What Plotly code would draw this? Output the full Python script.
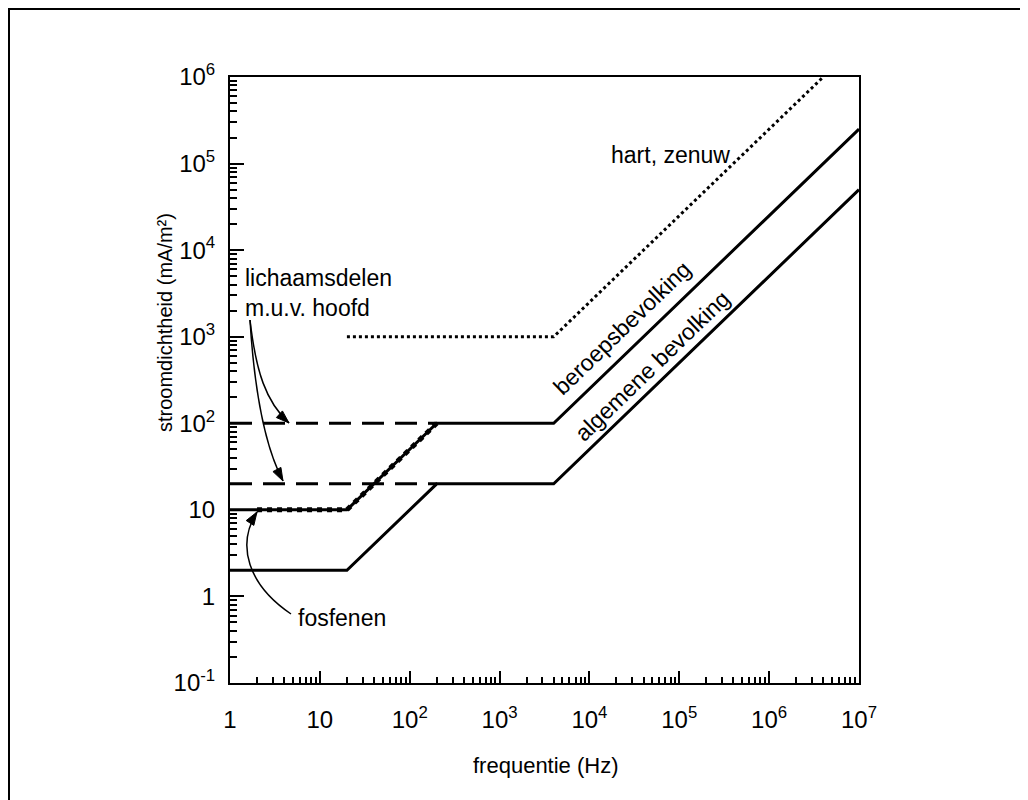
import plotly.graph_objects as go
import math

# ---- data ----
beroeps_f = [1, 20, 200, 4000, 1e7]
beroeps_j = [10, 10, 100, 100, 250000]
algemeen_f = [1, 20, 200, 4000, 1e7]
algemeen_j = [2, 2, 20, 20, 50000]
hart_f = [20, 4000, 4e6]
hart_j = [1000, 1000, 1e6]
fosfenen_f = [2, 20, 200]
fosfenen_j = [10, 10, 100]
lich_hi_f = [1, 200]
lich_hi_j = [100, 100]
lich_lo_f = [1, 200]
lich_lo_j = [20, 20]

x_tickvals = [1, 10, 100, 1e3, 1e4, 1e5, 1e6, 1e7]
x_ticktext = ["1", "10", "10<sup>2</sup>", "10<sup>3</sup>", "10<sup>4</sup>",
              "10<sup>5</sup>", "10<sup>6</sup>", "10<sup>7</sup>"]
y_tickvals = [0.1, 1, 10, 100, 1e3, 1e4, 1e5, 1e6]
y_ticktext = ["10<sup>-1</sup>", "1", "10", "10<sup>2</sup>", "10<sup>3</sup>",
              "10<sup>4</sup>", "10<sup>5</sup>", "10<sup>6</sup>"]

OFF = 8  # page body margin
W, H = 1028 - OFF, 800 - OFF  # figure fits the window without scrollbars
L, R, T, B = 230, 859, 77, 683  # plot box in window pixels
FONT = "Liberation Sans, Arial, sans-serif"

def minor_vals(lo, hi):
    v = []
    for k in range(lo, hi):
        for m in range(2, 10):
            v.append(m * 10 ** k)
    return v

fig = go.Figure()
fig.add_trace(go.Scatter(x=lich_hi_f, y=lich_hi_j, mode="lines",
                         line=dict(color="black", width=3, dash="22px,11px")))
fig.add_trace(go.Scatter(x=lich_lo_f, y=lich_lo_j, mode="lines",
                         line=dict(color="black", width=3, dash="22px,11px")))
fig.add_trace(go.Scatter(x=beroeps_f, y=beroeps_j, mode="lines",
                         line=dict(color="black", width=3)))
fig.add_trace(go.Scatter(x=algemeen_f, y=algemeen_j, mode="lines",
                         line=dict(color="black", width=3)))
fig.add_trace(go.Scatter(x=hart_f, y=hart_j, mode="lines",
                         line=dict(color="black", width=3, dash="dot")))
fig.add_trace(go.Scatter(x=fosfenen_f, y=fosfenen_j, mode="lines",
                         line=dict(color="black", width=5, dash="dot")))

def px(x):
    return (x - L) / (R - L)

def py(y):
    return (B - y) / (B - T)

def path_c(p0, c1, c2, p1):
    return "M %f,%f C %f,%f %f,%f %f,%f" % (px(p0[0]), py(p0[1]), px(c1[0]), py(c1[1]),
                                          px(c2[0]), py(c2[1]), px(p1[0]), py(p1[1]))

def head(c2, tip, ln=13, wd=4.5):
    dx, dy = tip[0] - c2[0], tip[1] - c2[1]
    n = math.hypot(dx, dy)
    ux, uy = dx / n, dy / n
    bx, by = tip[0] - ux * ln, tip[1] - uy * ln
    a = (bx - uy * wd, by + ux * wd)
    b = (bx + uy * wd, by - ux * wd)
    return "M %f,%f L %f,%f L %f,%f Z" % (px(tip[0]), py(tip[1]), px(a[0]), py(a[1]), px(b[0]), py(b[1]))

arrows = [
    ((250, 320), (256, 372), (266, 402), (289, 423)),
    ((250, 320), (254, 385), (264, 445), (283, 481)),
    ((291, 614), (248, 585), (236, 545), (257, 512)),
]
shapes = []
for p0, c1, c2, p1 in arrows:
    shapes.append(dict(type="path", xref="paper", yref="paper", path=path_c(p0, c1, c2, p1),
                       line=dict(color="black", width=1.5)))
    shapes.append(dict(type="path", xref="paper", yref="paper", path=head(c2, p1),
                       line=dict(color="black", width=1), fillcolor="black"))

# outer frame: only left and top edges are visible in the reference
shapes.append(dict(type="path", xref="paper", yref="paper",
                   path="M %f,%f L %f,%f L %f,%f" % (px(9), py(820), px(9), py(9), px(1060), py(9)),
                   line=dict(color="black", width=2)))

annotations = [
    dict(text="hart, zenuw", x=px(732), y=py(155), xanchor="right", yanchor="middle"),
    dict(text="beroepsbevolking", x=px(622), y=py(328), textangle=-44,
         xanchor="center", yanchor="middle"),
    dict(text="algemene bevolking", x=px(652), y=py(366), textangle=-44,
         xanchor="center", yanchor="middle"),
    dict(text="lichaamsdelen<br>m.u.v. hoofd", x=px(243), y=py(293), xanchor="left",
         yanchor="middle", align="left"),
    dict(text="fosfenen", x=px(296), y=py(618), xanchor="left", yanchor="middle"),
]
for a in annotations:
    a.update(xref="paper", yref="paper", showarrow=False,
             font=dict(family=FONT, size=23, color="black"))

# axis titles placed as annotations
annotations.append(dict(text="frequentie (Hz)", x=px(546), y=py(765), xref="paper", yref="paper",
                        xanchor="center", yanchor="middle", showarrow=False,
                        font=dict(family=FONT, size=22, color="black")))
annotations.append(dict(text="stroomdichtheid (mA/m²)", x=px(165), y=py(323), xref="paper",
                        yref="paper", xanchor="center", yanchor="middle", showarrow=False,
                        textangle=-90, font=dict(family=FONT, size=20, color="black")))

fig.update_layout(
    width=W, height=H,
    margin=dict(l=L - OFF, r=W + OFF - R, t=T - OFF, b=H + OFF - B, pad=0),
    paper_bgcolor="white", plot_bgcolor="white",
    showlegend=False,
    font=dict(family=FONT, color="black"),
    shapes=shapes, annotations=annotations,
    xaxis=dict(type="log", range=[0, 7], tickmode="array", tickvals=x_tickvals,
               ticktext=x_ticktext, ticks="inside", ticklen=12, tickwidth=1.5,
               tickcolor="black", showgrid=False, zeroline=False,
               showline=True, linewidth=2, linecolor="black", mirror=True,
               tickfont=dict(size=24, family=FONT), ticklabelstandoff=14,
               minor=dict(ticks="inside", ticklen=6, tickwidth=1.5, tickcolor="black",
                          tickmode="array", tickvals=minor_vals(0, 7), showgrid=False)),
    yaxis=dict(type="log", range=[-1, 6], tickmode="array", tickvals=y_tickvals,
               ticktext=y_ticktext, ticks="inside", ticklen=14, tickwidth=1.5,
               tickcolor="black", showgrid=False, zeroline=False,
               showline=True, linewidth=2, linecolor="black", mirror=True,
               tickfont=dict(size=24, family=FONT), ticklabelstandoff=8,
               minor=dict(ticks="inside", ticklen=7, tickwidth=1.5, tickcolor="black",
                          tickmode="array", tickvals=minor_vals(-1, 6), showgrid=False)),
)

fig.write_html("out.html")
